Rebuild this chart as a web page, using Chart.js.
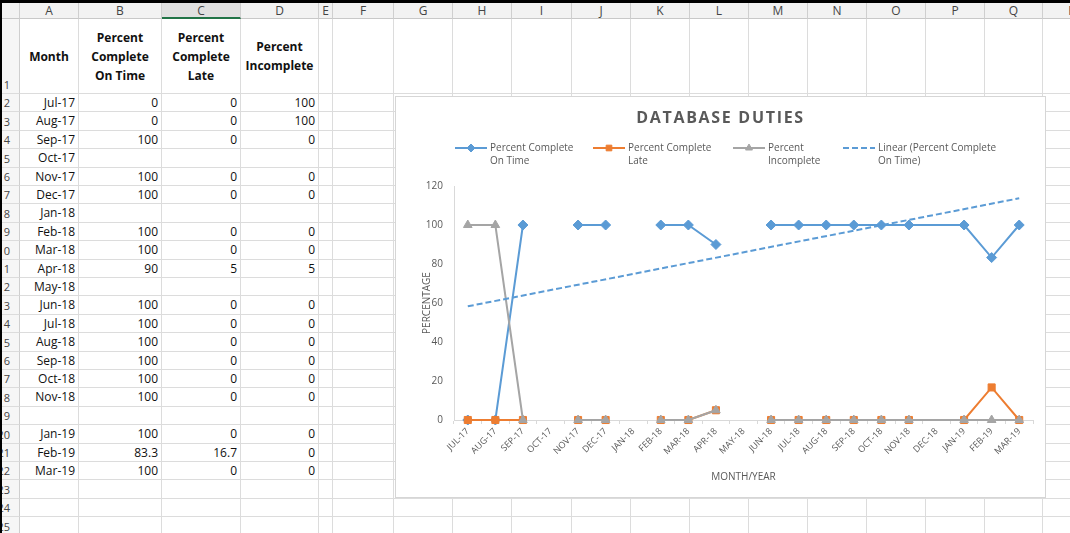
<!DOCTYPE html>
<html><head><meta charset="utf-8">
<script src="https://cdn.jsdelivr.net/npm/chart.js@4.4.1/dist/chart.umd.min.js"></script>
<style>
html,body{margin:0;padding:0;background:#000;width:1070px;height:533px;overflow:hidden;font-family:"Open Sans",sans-serif;}
#sheet{position:absolute;left:0;top:0;width:1070px;height:533px;overflow:hidden;}
.cell{position:absolute;box-sizing:border-box;border-right:1px solid #dcdcdc;border-bottom:1px solid #dcdcdc;background:#fff;font-size:12px;color:#111;white-space:nowrap;overflow:hidden;}
.hdr{background:#f2f2f2;border-right:1px solid #cfcfcf;border-bottom:1px solid #c8c8c8;color:#444;font-size:12px;text-align:center;line-height:15px;}
.rowh{background:#f6f6f6;border-right:1px solid #cfcfcf;border-bottom:1px solid #dcdcdc;color:#444;font-size:11px;text-align:right;padding-right:10px;}
.num{text-align:right;padding-right:3px;line-height:18px;}
.head{font-weight:bold;text-align:center;display:flex;align-items:center;justify-content:center;line-height:19px;}
#chartBox{position:absolute;left:395px;top:96px;width:651px;height:402px;box-sizing:border-box;border:1px solid #d6d6d6;background:#fff;}
#chartBox canvas{display:block;}
</style>
</head>
<body>
<div id="sheet"></div>
<div id="chartBox"><canvas id="chart" width="649" height="400"></canvas></div>
<script>
// ---------- data ----------
const categories = ['JUL-17','AUG-17','SEP-17','OCT-17','NOV-17','DEC-17','JAN-18','FEB-18','MAR-18','APR-18','MAY-18','JUN-18','JUL-18','AUG-18','SEP-18','OCT-18','NOV-18','DEC-18','JAN-19','FEB-19','MAR-19'];
// sheet column A ('' = row without a month, no point plotted there)
const sheetMonths = ['Jul-17','Aug-17','Sep-17','Oct-17','Nov-17','Dec-17','Jan-18','Feb-18','Mar-18','Apr-18','May-18','Jun-18','Jul-18','Aug-18','Sep-18','Oct-18','Nov-18','','Jan-19','Feb-19','Mar-19'];
const onTime     = [0,0,100,null,100,100,null,100,100,90,null,100,100,100,100,100,100,null,100,83.3,100];
const late       = [0,0,0,null,0,0,null,0,0,5,null,0,0,0,0,0,0,null,0,16.7,0];
const incomplete = [100,100,0,null,0,0,null,0,0,5,null,0,0,0,0,0,0,null,0,0,0];
// trendline endpoints (first and last category)
const trendOnTime = [58.3,null,null,null,null,null,null,null,null,null,null,null,null,null,null,null,null,null,null,null,113.7];
const yTicks = [0,20,40,60,80,100,120];
const sheetHeaders = [['Month'],['Percent','Complete','On Time'],['Percent','Complete','Late'],['Percent','Incomplete']];
const seriesLegend = [['Percent Complete','On Time'],['Percent Complete','Late'],['Percent','Incomplete'],['Linear (Percent Complete','On Time)']];
const chartTitle = 'DATABASE DUTIES';
const xTitle = 'MONTH/YEAR';
const yTitle = 'PERCENTAGE';

// ---------- spreadsheet ----------
const colEdges = [2,20,79,162,241,319,333,394,453,512,572,631,690,749,808,867,926,985,1043,1102];
const colLetters = ['','A','B','C','D','E','F','G','H','I','J','K','L','M','N','O','P','Q','R'];
const sheet = document.getElementById('sheet');
function addCell(cls, x, y, w, h, html, extra){
  const d = document.createElement('div');
  d.className = cls;
  d.style.left = x+'px'; d.style.top = y+'px'; d.style.width = w+'px'; d.style.height = h+'px';
  if (extra) Object.assign(d.style, extra);
  if (html !== undefined) d.innerHTML = html;
  sheet.appendChild(d);
  return d;
}
for (let c=0;c<colLetters.length;c++){
  const x = colEdges[c], w = colEdges[c+1]-colEdges[c];
  const extra = {};
  if (colLetters[c]==='C'){ extra.background='#e0e0e0'; extra.borderBottom='2px solid #217346'; }
  addCell('cell hdr', x, 3, w, 16, colLetters[c], extra);
}
function rowTop(r){ return r===1 ? 19 : 94 + (r-2)*18.4; }
function rowH(r){ return r===1 ? 75 : 18.4; }
for (let r=1;r<=25;r++){
  const y = rowTop(r), h = rowH(r);
  addCell('cell rowh', colEdges[0], y, colEdges[1]-colEdges[0], h, '<span style="position:absolute;right:9px;bottom:1px;line-height:14px">'+r+'</span>');
  for (let c=1;c<colLetters.length;c++){
    const x = colEdges[c], w = colEdges[c+1]-colEdges[c];
    let html = '', cls = 'cell';
    if (r===1 && c<=4){ cls='cell head'; html = '<div>'+sheetHeaders[c-1].join('<br>')+'</div>'; }
    else if (r>=2 && r-2 < sheetMonths.length && c<=4){
      const i = r-2;
      cls = 'cell num';
      if (c===1) html = sheetMonths[i];
      const v = c===2?onTime[i]:c===3?late[i]:c===4?incomplete[i]:null;
      if (c>1 && v!==null) html = String(v);
    }
    addCell(cls, x, y, w, h, html);
  }
}

// ---------- chart ----------
const FF = '"Open Sans", sans-serif';
Chart.defaults.font.family = FF;
const BLUE='#5B9BD5', ORANGE='#ED7D31', GREY='#A5A5A5', TXT='#595959';

// points only for sheet rows that have a month; blank values stay as gaps
function toPoints(values){
  const pts = [];
  values.forEach((v,i)=>{ if (sheetMonths[i] !== '') pts.push({x:categories[i], y:v}); });
  return pts;
}

const legendPos = [59, 197, 337, 447];

const titleLegendPlugin = {
  id:'titleLegend',
  afterDraw(chart){
    const ctx = chart.ctx;
    ctx.save();
    ctx.fillStyle = TXT;
    ctx.font = 'bold 16px '+FF;
    ctx.textAlign='center'; ctx.textBaseline='middle';
    try{ ctx.letterSpacing='1.7px'; }catch(e){}
    ctx.fillText(chartTitle, chart.width/2, 21);
    try{ ctx.letterSpacing='0px'; }catch(e){}
    ctx.font = '10px '+FF;
    ctx.textAlign='left';
    [0,1,2,3].forEach(k=>{
      const ds = chart.data.datasets[k];
      const x0 = legendPos[k], y0 = 51;
      ctx.strokeStyle = ds.borderColor; ctx.lineWidth = 2;
      ctx.setLineDash(ds.borderDash||[]);
      ctx.beginPath(); ctx.moveTo(x0, y0); ctx.lineTo(x0+32, y0); ctx.stroke();
      ctx.setLineDash([]);
      if (ds.pointRadius>0){
        ctx.fillStyle = ds.backgroundColor; ctx.strokeStyle = ds.borderColor; ctx.lineWidth = 1;
        Chart.helpers.drawPoint(ctx, {pointStyle:ds.pointStyle, radius:ds.pointRadius*0.8, borderWidth:1, rotation:0}, x0+16, y0);
      }
      ctx.fillStyle = TXT;
      seriesLegend[k].forEach((t,j)=>ctx.fillText(t, x0+35, y0 + j*13));
    });
    ctx.restore();
  }
};

new Chart(document.getElementById('chart'), {
  type:'line',
  data:{
    labels: categories,
    datasets:[
      {label:'Percent Complete On Time', data:toPoints(onTime), borderColor:BLUE, backgroundColor:BLUE, borderWidth:2,
       pointStyle:'rectRot', pointRadius:5, pointBorderWidth:1, spanGaps:false, clip:false, order:3},
      {label:'Percent Complete Late', data:toPoints(late), borderColor:ORANGE, backgroundColor:ORANGE, borderWidth:2,
       pointStyle:'rect', pointRadius:5, pointBorderWidth:1, spanGaps:false, clip:false, order:2},
      {label:'Percent Incomplete', data:toPoints(incomplete), borderColor:GREY, backgroundColor:GREY, borderWidth:2,
       pointStyle:'triangle', pointRadius:5, pointBorderWidth:1, spanGaps:false, clip:false, order:1},
      {label:'Linear (Percent Complete On Time)', data:trendOnTime, borderColor:BLUE, backgroundColor:BLUE, borderWidth:2,
       borderDash:[6,3], pointRadius:0, spanGaps:true, clip:false, order:0}
    ]
  },
  options:{
    responsive:false, animation:false,
    layout:{padding:{left:0,right:12,top:89,bottom:0}},
    plugins:{legend:{display:false}, title:{display:false}, tooltip:{enabled:false}},
    scales:{
      x:{
        type:'category',
        offset:true,
        grid:{display:true, drawOnChartArea:false, drawTicks:true, tickLength:4, color:'#d9d9d9', offset:true},
        border:{display:true, color:'#d9d9d9', width:1},
        ticks:{autoSkip:false, maxRotation:45, minRotation:45, padding:2, color:TXT, font:{size:9}},
        title:{display:true, text:xTitle, color:TXT, font:{size:10}, padding:{top:0,bottom:14}},
        afterFit(s){ s.height = 77; }
      },
      y:{
        min:0, max:120,
        afterBuildTicks(s){ s.ticks = yTicks.map(v=>({value:v})); },
        grid:{display:false, drawTicks:false},
        border:{display:true, color:'#d9d9d9', width:1},
        ticks:{padding:11, color:TXT, font:{size:10}},
        title:{display:true, text:yTitle, color:TXT, font:{size:10}, padding:{top:25,bottom:0}},
        afterFit(s){ s.width = 58; }
      }
    }
  },
  plugins:[titleLegendPlugin]
});
</script>
</body></html>
